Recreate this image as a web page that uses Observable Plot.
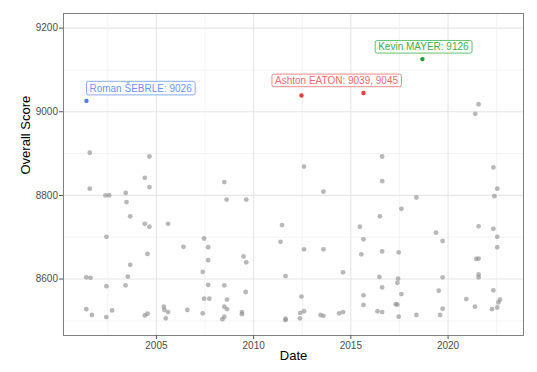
<!DOCTYPE html>
<html><head><meta charset="utf-8">
<script src="https://cdn.jsdelivr.net/npm/d3@7"></script>
<script src="https://cdn.jsdelivr.net/npm/@observablehq/plot@0.6"></script>
<style>body{margin:0;background:#fff;}</style>
</head><body><div id="chart"></div>
<script>
// Other decathlon performances (decimal year, overall score)
const otherDates = [
  2001.57, 2004.64, 2004.40, 2004.64, 2008.49, 2001.57, 2002.38, 2002.57, 2003.42, 2003.46,
  2003.65, 2004.40, 2004.64, 2005.60, 2008.61, 2009.62, 2011.46, 2002.43, 2004.54, 2003.65,
  2003.53, 2001.39, 2001.61, 2002.43, 2003.41, 2001.39, 2001.68, 2002.42, 2002.72, 2004.40,
  2004.54, 2005.38, 2005.41, 2005.60, 2005.48, 2006.39, 2006.59, 2007.45, 2007.66, 2007.66,
  2007.38, 2007.66, 2007.45, 2007.72, 2007.38, 2008.49, 2008.63, 2008.49, 2008.63, 2008.49,
  2008.39, 2009.48, 2009.62, 2009.59, 2009.40, 2009.40, 2021.57, 2021.40, 2012.59, 2016.61,
  2016.61, 2022.33, 2022.53, 2013.59, 2022.38, 2018.37, 2017.60, 2016.49, 2015.46, 2021.57,
  2022.33, 2019.38, 2011.38, 2015.65, 2019.72, 2022.53, 2012.59, 2013.59, 2015.54, 2016.61,
  2017.46, 2022.53, 2021.45, 2021.57, 2014.60, 2011.64, 2016.47, 2017.43, 2017.39, 2019.72,
  2021.57, 2021.57, 2016.61, 2017.60, 2015.65, 2012.46, 2019.52, 2022.33, 2020.94, 2022.67,
  2022.59, 2021.38, 2022.53, 2022.26, 2019.72, 2015.65, 2017.31, 2017.39, 2016.37, 2016.61,
  2012.59, 2012.40, 2012.38, 2011.64, 2011.64, 2013.44, 2013.59, 2014.40, 2014.60, 2017.46,
  2018.37, 2019.59
];
const otherScores = [
  8902, 8893, 8842, 8820, 8832, 8816, 8800, 8800, 8806, 8784,
  8750, 8732, 8725, 8732, 8790, 8790, 8729, 8701, 8660, 8634,
  8606, 8604, 8603, 8583, 8585, 8528, 8514, 8509, 8525, 8513,
  8517, 8534, 8526, 8521, 8506, 8677, 8526, 8697, 8676, 8645,
  8617, 8586, 8553, 8553, 8518, 8585, 8551, 8534, 8528, 8510,
  8504, 8654, 8640, 8569, 8521, 8516, 9018, 8995, 8869, 8893,
  8834, 8867, 8816, 8809, 8798, 8795, 8768, 8750, 8725, 8726,
  8720, 8711, 8689, 8695, 8691, 8701, 8671, 8671, 8659, 8666,
  8664, 8676, 8648, 8649, 8616, 8607, 8605, 8601, 8591, 8604,
  8611, 8604, 8580, 8564, 8561, 8558, 8572, 8573, 8552, 8551,
  8544, 8534, 8532, 8528, 8529, 8538, 8540, 8539, 8523, 8521,
  8523, 8519, 8506, 8505, 8502, 8514, 8512, 8518, 8521, 8510,
  8514, 8514
];

// World-record performances
const recordAthletes = ["Roman ŠEBRLE", "Ashton EATON", "Ashton EATON", "Kevin MAYER"];
const recordDates = [2001.40, 2012.46, 2015.65, 2018.68];
const recordScores = [9026, 9039, 9045, 9126];

const athleteNames = ["Roman ŠEBRLE", "Ashton EATON", "Kevin MAYER"];
const athleteLabels = ["Roman ŠEBRLE: 9026", "Ashton EATON: 9039, 9045", "Kevin MAYER: 9126"];
const dotColors = ["#4a7dff", "#ec3b3b", "#17a336"];
const labelColors = ["#6a95ff", "#f26b6b", "#3ab24e"];

// Axis ticks
const xTicks = [2005, 2010, 2015, 2020];
const xMinor = [2002.5, 2007.5, 2012.5, 2017.5, 2022.5];
const yTicks = [8600, 8800, 9000, 9200];
const yMinor = [8500, 8700, 8900, 9100];

const others = otherDates.map((d, i) => ({date: d, score: otherScores[i]}));
const records = recordDates.map((d, i) => ({date: d, score: recordScores[i], athlete: recordAthletes[i]}));

// label anchor data: per athlete, mean of its record points
const labelData = athleteNames.map((name, i) => {
  const pts = records.filter(r => r.athlete === name);
  return {
    athlete: name,
    label: athleteLabels[i],
    date: d3.mean(pts, p => p.date),
    score: d3.mean(pts, p => p.score)
  };
});

const font = "Liberation Sans, Arial, Helvetica, sans-serif";

const plot = Plot.plot({
  width: 537,
  height: 372,
  marginLeft: 63,
  marginRight: 14,
  marginTop: 13,
  marginBottom: 37,
  style: {fontFamily: font, fontSize: "10px", background: "#fff", color: "#000"},
  x: {domain: [2000.22, 2023.88], axis: null},
  y: {domain: [8465, 9235], axis: null},
  color: {domain: athleteNames, range: dotColors},
  marks: [
    Plot.ruleX(xMinor, {stroke: "#ececec", strokeWidth: 0.6}),
    Plot.ruleY(yMinor, {stroke: "#ececec", strokeWidth: 0.6}),
    Plot.ruleX(xTicks, {stroke: "#e6e6e6", strokeWidth: 1.1}),
    Plot.ruleY(yTicks, {stroke: "#e6e6e6", strokeWidth: 1.1}),
    Plot.frame({stroke: "#808080", strokeWidth: 1}),
    Plot.axisX({ticks: xTicks, tickFormat: d => String(d), tickSize: 4, tickPadding: 2,
      fontSize: 10, fill: "#4d4d4d", stroke: "#555", label: null}),
    Plot.axisY({ticks: yTicks, tickFormat: d => String(d), tickSize: 4, tickPadding: 1.5,
      fontSize: 10, fill: "#4d4d4d", stroke: "#555", label: null}),
    Plot.text(["Date"], {frameAnchor: "bottom", dy: 24, text: d => d, fontSize: 13, fill: "#000"}),
    Plot.text(["Overall Score"], {frameAnchor: "left", rotate: -90, dx: -38, text: d => d, fontSize: 13, fill: "#000"}),
    Plot.dot(others, {x: "date", y: "score", r: 2.4, fill: "#888", fillOpacity: 0.6}),
    Plot.dot(records, {x: "date", y: "score", r: 2.2, fill: "athlete"}),
    Plot.text(labelData.filter(d => d.athlete === athleteNames[0]), {x: "date", y: "score", text: "label",
      textAnchor: "start", dx: 3, dy: -12, fill: labelColors[0], fontSize: 10}),
    Plot.text(labelData.filter(d => d.athlete === athleteNames[1]), {x: "date", y: "score", text: "label",
      dx: 4, dy: -13.5, fill: labelColors[1], fontSize: 10}),
    Plot.text(labelData.filter(d => d.athlete === athleteNames[2]), {x: "date", y: "score", text: "label",
      dx: 1, dy: -12, fill: labelColors[2], fontSize: 10})
  ]
});

document.getElementById("chart").appendChild(plot);

// draw rounded label boxes behind the record labels
const svg = plot.tagName.toLowerCase() === "svg" ? plot : plot.querySelector("svg");
svg.querySelectorAll("text").forEach(t => {
  const idx = athleteLabels.indexOf(t.textContent);
  if (idx < 0) return;
  const b = t.getBBox();
  const rect = document.createElementNS("http://www.w3.org/2000/svg", "rect");
  rect.setAttribute("x", b.x - 3);
  rect.setAttribute("y", b.y - 0.8);
  rect.setAttribute("width", b.width + 6);
  rect.setAttribute("height", b.height + 1.6);
  rect.setAttribute("rx", 2);
  rect.setAttribute("fill", "#fff");
  rect.setAttribute("stroke", labelColors[idx]);
  rect.setAttribute("stroke-width", 0.8);
  const tr = t.getAttribute("transform");
  if (tr) rect.setAttribute("transform", tr);
  t.parentNode.insertBefore(rect, t);
});
</script>
</body></html>
